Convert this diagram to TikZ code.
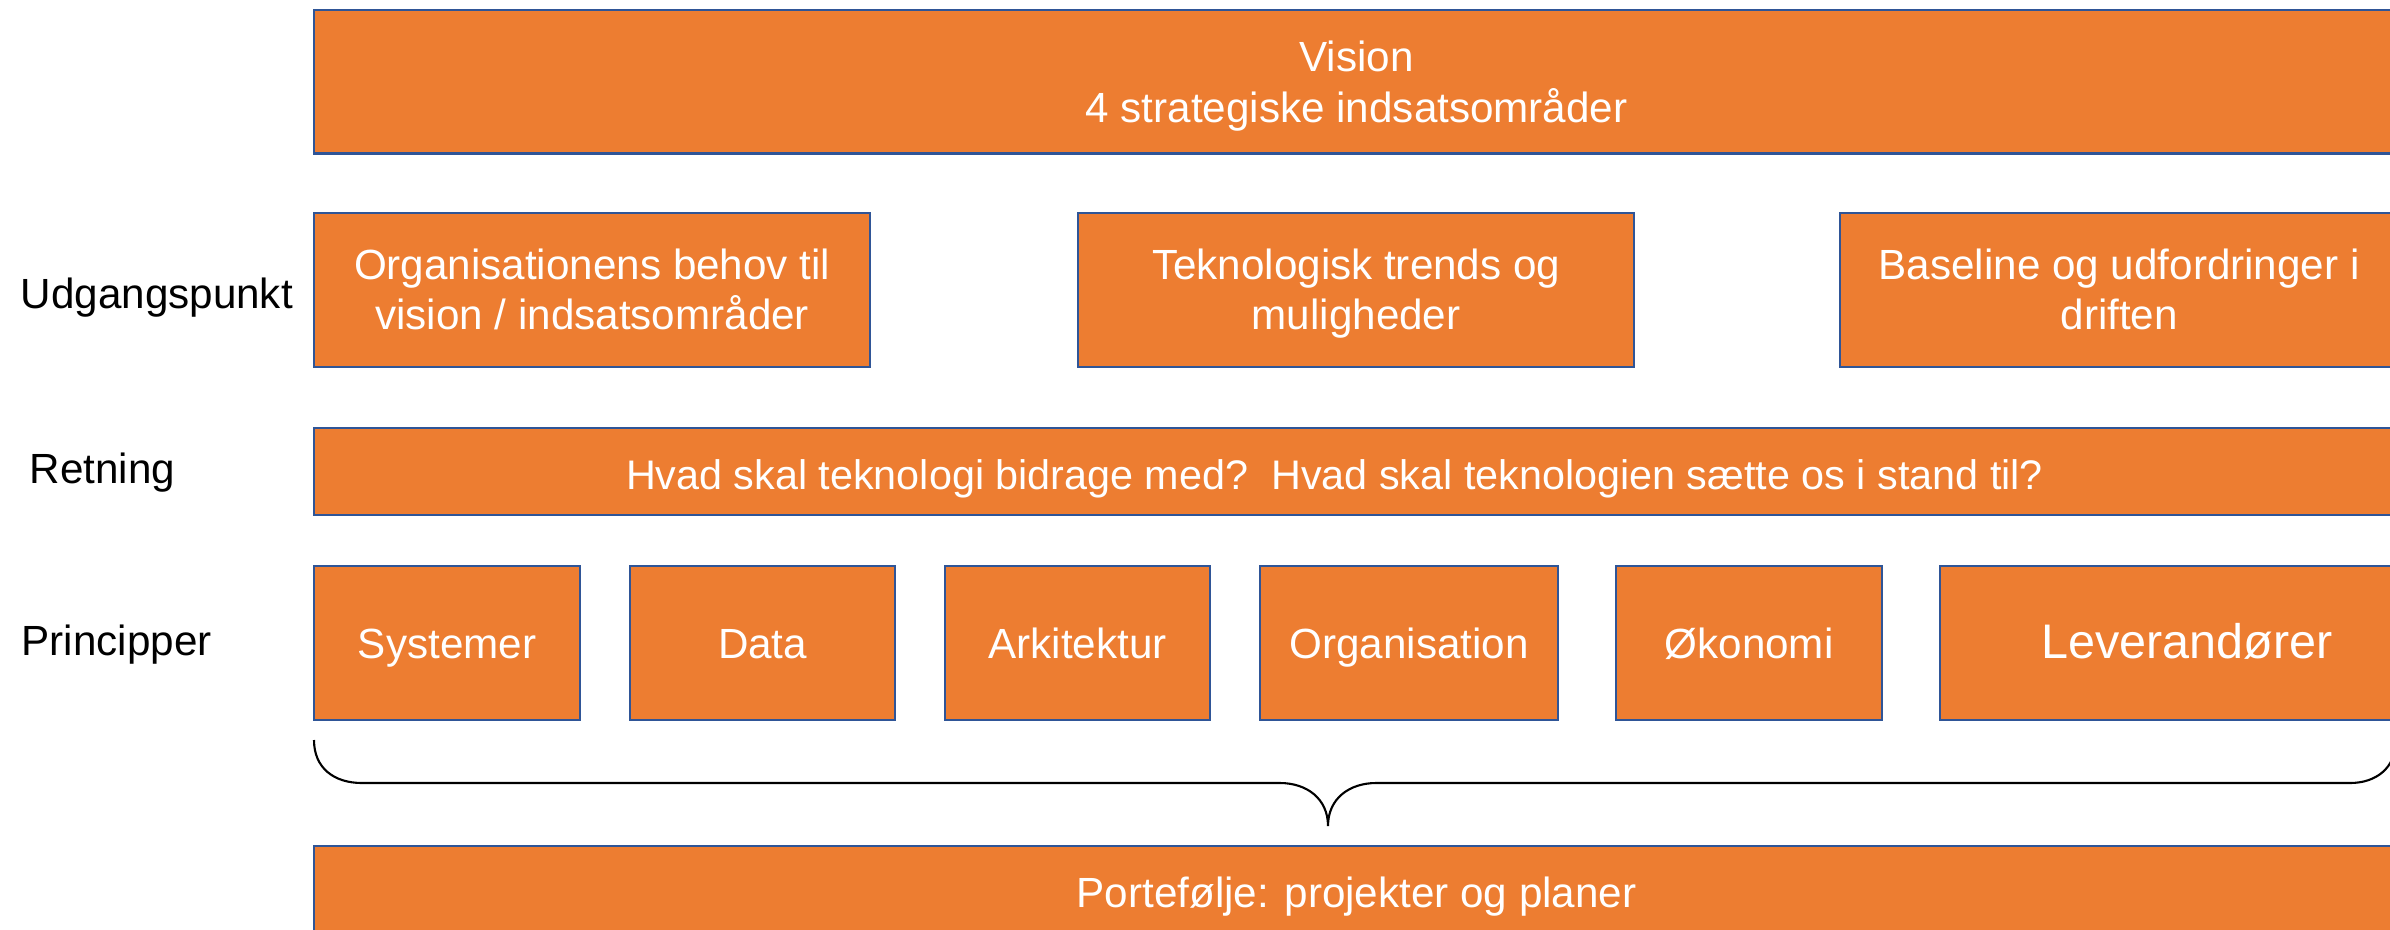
\documentclass[tikz,border=0pt]{standalone}
\usepackage{fontspec}
\setmainfont{Liberation Sans}
\definecolor{boxfill}{HTML}{ED7D31}
\definecolor{boxline}{HTML}{2F5597}
\newcommand\mytopstrut{\rule{0pt}{0.39cm}}
\newcommand\mybotstrut{\rule[-0.10cm]{0pt}{0.10cm}}
\begin{document}
\begin{tikzpicture}[x=0.01cm,y=-0.01cm,
  box/.style={draw=boxline,line width=0.5pt,fill=boxfill,text=white,
    font=\fontsize{12}{14}\selectfont,align=center,inner sep=0pt,
    anchor=north west,outer sep=0pt},
  oneline/.style={text height=0.35cm,text depth=0.05cm},
  rowlabel/.style={anchor=base west,text=black,font=\fontsize{12}{14}\selectfont,inner sep=0pt},
  bracestyle/.style={draw=black,line width=0.6pt}]
\useasboundingbox (0,0) rectangle (2390,929);
\clip (0,0) rectangle (2390,929);
% top
\node[box,line width=0.8pt,font=\fontsize{12}{14.5}\selectfont,minimum width=20.84cm,minimum height=1.43cm] (vision) at (314,10) {\rule{0pt}{0.40cm}Vision\\4 strategiske indsatsområder\mybotstrut};
% Udgangspunkt row
\node[rowlabel] (lblU) at (20,308) {Udgangspunkt};
\node[box,minimum width=5.56cm,minimum height=1.54cm] (org) at (314,213) {\mytopstrut Organisationens behov til\\vision / indsatsområder\mybotstrut};
\node[box,minimum width=5.56cm,minimum height=1.54cm] (tek) at (1078,213) {\mytopstrut Teknologisk trends og\\muligheder\mybotstrut};
\node[box,minimum width=5.58cm,minimum height=1.54cm] (base) at (1840,213) {\mytopstrut Baseline og udfordringer i\\driften\mybotstrut};
% Retning
\node[rowlabel] (lblR) at (29,483) {Retning};
\node[box,oneline,text height=0.38cm,text depth=0.02cm,font=\fontsize{11.75}{14}\selectfont,minimum width=20.84cm,minimum height=0.87cm] (ret) at (314,428) {Hvad skal teknologi bidrage med?\ \ Hvad skal teknologien sætte os i stand til?\hspace*{0.44cm}};
% Principper
\node[rowlabel] (lblP) at (21,655) {Principper};
\node[box,oneline,minimum width=2.66cm,minimum height=1.54cm] (sys) at (314,566) {Systemer};
\node[box,oneline,minimum width=2.65cm,minimum height=1.54cm] (dat) at (630,566) {Data};
\node[box,oneline,minimum width=2.65cm,minimum height=1.54cm] (ark) at (945,566) {Arkitektur};
\node[box,oneline,minimum width=2.98cm,minimum height=1.54cm] (orgn) at (1260,566) {Organisation};
\node[box,oneline,minimum width=2.66cm,minimum height=1.54cm] (oko) at (1616,566) {Økonomi};
\node[box,oneline,font=\fontsize{13.8}{16}\selectfont,text height=0.36cm,minimum width=4.94cm,minimum height=1.54cm] (lev) at (1940,566) {Leverandører};
% brace
\coordinate (bl) at (314,740);
\coordinate (bt) at (1328,826);
\coordinate (br) at (2396,740);
\draw[bracestyle] (bl) .. controls (314,768) and (334,783) .. (362,783) -- (1280,783)
  .. controls (1306,783) and (1328,798) .. (bt)
  .. controls (1328,798) and (1350,783) .. (1376,783) -- (2350,783)
  .. controls (2376,783) and (2396,768) .. (br);
% bottom
\node[box,oneline,minimum width=20.84cm,minimum height=0.92cm] (port) at (314,846) {Portefølje: projekter og planer};
\end{tikzpicture}
\end{document}
